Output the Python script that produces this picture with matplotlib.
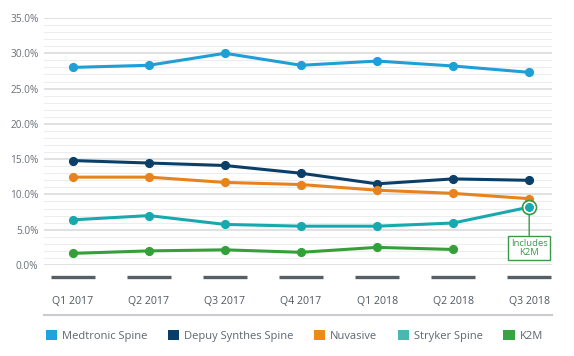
import matplotlib
matplotlib.use("Agg")
from matplotlib import pyplot as plt
from matplotlib.lines import Line2D
from matplotlib.patches import Patch
import matplotlib.transforms as mtransforms
import numpy as np

# data
quarters = ["Q1 2017", "Q2 2017", "Q3 2017", "Q4 2017", "Q1 2018", "Q2 2018", "Q3 2018"]
medtronic = [28.0, 28.3, 30.0, 28.3, 28.9, 28.2, 27.3]
depuy = [14.8, 14.45, 14.1, 13.0, 11.5, 12.2, 12.0]
nuvasive = [12.45, 12.45, 11.7, 11.4, 10.6, 10.15, 9.4]
stryker = [6.4, 7.0, 5.75, 5.5, 5.5, 5.95, 8.2]
k2m = [1.65, 2.0, 2.15, 1.8, 2.5, 2.2]

names = ["Medtronic Spine", "Depuy Synthes Spine", "Nuvasive", "Stryker Spine", "K2M"]
line_colors = ["#1f9fd6", "#0c3f68", "#e8821c", "#18a9ae", "#35a03a"]
legend_colors = ["#1ea2e0", "#0b3d6b", "#f28a12", "#4bb8b0", "#36a441"]
series = [medtronic, depuy, nuvasive, stryker, k2m]

plt.rcParams['font.family'] = ['Open Sans', 'DejaVu Sans']

fig = plt.figure(figsize=(5.74, 3.56), dpi=100)
ax = fig.add_axes([44/574, 91/356, 508/574, 247/356])

x = np.arange(len(quarters))

# grid: darker every 5%, faint every 1%
for v in np.arange(0, 36, 1):
    if v % 5 == 0:
        ax.axhline(v, color="#d6d8da", lw=1.1, zorder=0)
    else:
        ax.axhline(v, color="#ededee", lw=0.8, zorder=0)

for vals, col in zip(series, line_colors):
    ax.plot(x[:len(vals)], vals, color=col, lw=2.2, marker="o", markersize=5.6,
            solid_capstyle="round", zorder=3)

# annotation on the last Stryker point
ax.plot([x[-1]], [stryker[-1]], marker="o", markersize=10, markerfacecolor="none",
        markeredgecolor="#3a9a48", markeredgewidth=1.3, zorder=4)
ax.plot([x[-1]], [stryker[-1]], marker="o", markersize=7.6, markerfacecolor="none",
        markeredgecolor="white", markeredgewidth=1.0, zorder=4)
ax.annotate("Includes\nK2M", xy=(x[-1], stryker[-1]), xytext=(x[-1], 2.45),
            ha="center", va="center", fontsize=6.8, color="#3a9a48", linespacing=1.0,
            bbox=dict(boxstyle="square,pad=0.3", fc="white", ec="#3a9a48", lw=1.0),
            arrowprops=dict(arrowstyle="-", color="#3a9a48", lw=1.0, shrinkA=0, shrinkB=5),
            zorder=5)

ax.set_xlim(-0.38, len(quarters) - 1 + 0.30)
ax.set_ylim(0, 35)
ax.set_yticks(np.arange(0, 36, 5))
ax.set_yticklabels([f"{v:.1f}%" for v in np.arange(0, 36, 5)])
ax.set_xticks(x)
ax.set_xticklabels(quarters)
ax.tick_params(axis="y", length=0, pad=4, labelsize=7.3, labelcolor="#6b7178")
ax.tick_params(axis="x", length=0, pad=22, labelsize=7.6, labelcolor="#4f5760")
for s in ax.spines.values():
    s.set_visible(False)

# thick dash marks under each category
trans = mtransforms.blended_transform_factory(ax.transData, ax.transAxes)
ax.plot(x, [-12/247] * len(x), transform=trans, linestyle="none", marker="_",
        markersize=31, markeredgewidth=2.4, color="#565e66", clip_on=False)

# separator line
fig.add_artist(Line2D([44/574, 552/574], [41/356, 41/356], color="#c9cbce", lw=1.5))

handles = [Patch(facecolor=c, edgecolor="none") for c in legend_colors]
fig.legend(handles, names, loc="center left", bbox_to_anchor=(36/574, 20/356), ncol=5,
           frameon=False, fontsize=8, handlelength=1.0, handleheight=1.0,
           handletextpad=0.45, columnspacing=1.85, labelcolor="#5d6670")

fig.savefig("out.png", dpi=100, facecolor="white")
